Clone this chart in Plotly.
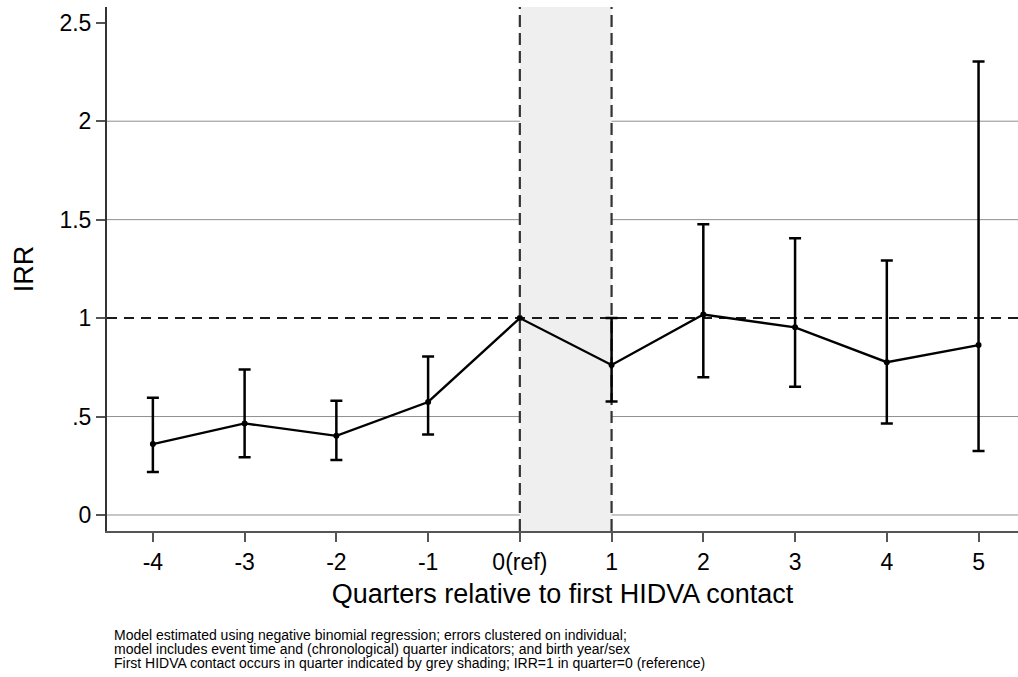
import plotly.graph_objects as go

# Event-time quarters and their tick labels
quarters = [-4, -3, -2, -1, 0, 1, 2, 3, 4, 5]
quarter_labels = ["-4", "-3", "-2", "-1", "0(ref)", "1", "2", "3", "4", "5"]

# Incidence rate ratios with 95% confidence bounds (reference quarter has none)
irr = [0.36, 0.465, 0.402, 0.574, 1.0, 0.762, 1.018, 0.953, 0.776, 0.863]
ci_low = [0.218, 0.293, 0.279, 0.409, None, 0.577, 0.700, 0.651, 0.465, 0.325]
ci_high = [0.595, 0.739, 0.580, 0.805, None, 1.0, 1.477, 1.405, 1.293, 2.303]

# Y axis ticks and which of them carry a gridline
y_ticks = [0, 0.5, 1, 1.5, 2, 2.5]
y_tick_labels = ["0", ".5", "1", "1.5", "2", "2.5"]
grid_values = [0, 0.5, 1.5, 2]

# Quarter of first contact (shaded) and the reference IRR level
contact_start, contact_end = 0, 1
reference_irr = 1

x_range = [-4.5, 5.43]
y_range = [-0.0813, 2.58]

note_lines = [
    "Model estimated using negative binomial regression; errors clustered on individual;",
    "model includes event time and (chronological) quarter indicators; and birth year/sex",
    "First HIDVA contact occurs in quarter indicated by grey shading; IRR=1 in quarter=0 (reference)",
]

FONT = "Liberation Sans, Arial, sans-serif"

fig = go.Figure()

# grey band for the quarter of first contact
fig.add_trace(go.Scatter(
    x=[contact_start, contact_end, contact_end, contact_start, contact_start],
    y=[y_range[0], y_range[0], y_range[1], y_range[1], y_range[0]],
    fill="toself", fillcolor="#efefef", mode="none",
    showlegend=False, hoverinfo="skip",
))

# dashed boundaries of the band
for xv in (contact_start, contact_end):
    fig.add_trace(go.Scatter(
        x=[xv, xv], y=y_range, mode="lines",
        line=dict(color="#333333", width=2.2, dash="12px,6px"),
        showlegend=False, hoverinfo="skip",
    ))

# dashed reference line at IRR = 1
fig.add_trace(go.Scatter(
    x=x_range, y=[reference_irr, reference_irr], mode="lines",
    line=dict(color="#1a1a1a", width=2, dash="10px,7px"),
    showlegend=False, hoverinfo="skip",
))

# confidence intervals (quarters that have them)
has_ci = [i for i, h in enumerate(ci_high) if h is not None]
fig.add_trace(go.Scatter(
    x=[quarters[i] for i in has_ci],
    y=[irr[i] for i in has_ci],
    mode="markers", marker=dict(size=1, color="black", opacity=0),
    error_y=dict(type="data", symmetric=False,
                 array=[ci_high[i] - irr[i] for i in has_ci],
                 arrayminus=[irr[i] - ci_low[i] for i in has_ci],
                 color="black", thickness=2.5, width=6),
    showlegend=False, hoverinfo="skip",
))

# point estimates
fig.add_trace(go.Scatter(
    x=quarters, y=irr,
    mode="lines+markers",
    line=dict(color="black", width=2.3),
    marker=dict(color="black", size=6),
    showlegend=False,
))

shapes = [
    dict(type="line", xref="paper", x0=0, x1=1, yref="y", y0=g, y1=g,
         line=dict(color="#8f8f8f", width=1), layer="below")
    for g in grid_values
]

plot_top, plot_h = 7, 524
note_tops = [625, 639, 653]
annotations = [
    dict(xref="paper", yref="paper", x=(112 - 107) / 911,
         y=-(top - (plot_top + plot_h)) / plot_h,
         xanchor="left", yanchor="top", align="left", showarrow=False,
         text=line, font=dict(size=14, family=FONT, color="black"))
    for line, top in zip(note_lines, note_tops)
]

fig.update_layout(
    width=1018, height=677,
    margin=dict(l=107, r=0, t=plot_top, b=677 - plot_top - plot_h),
    paper_bgcolor="white", plot_bgcolor="white",
    font=dict(family=FONT, color="black"),
    shapes=shapes,
    annotations=annotations,
    xaxis=dict(
        range=x_range,
        tickmode="array", tickvals=quarters, ticktext=quarter_labels,
        ticks="outside", ticklen=9, tickwidth=2, tickcolor="#555555",
        showline=True, linecolor="#555555", linewidth=2,
        showgrid=False, zeroline=False,
        tickfont=dict(size=23, family=FONT, color="black"),
        title=dict(text="Quarters relative to first HIDVA contact",
                   font=dict(size=27, family=FONT, color="black"), standoff=11),
    ),
    yaxis=dict(
        range=y_range,
        tickmode="array", tickvals=y_ticks, ticktext=y_tick_labels,
        ticks="outside", ticklen=9, tickwidth=2, tickcolor="#555555",
        showline=True, linecolor="#333333", linewidth=2,
        showgrid=False, zeroline=False,
        tickfont=dict(size=23, family=FONT, color="black"),
        title=dict(text="IRR", font=dict(size=27, family=FONT, color="black"), standoff=18),
    ),
)

fig.write_html("out.html")
